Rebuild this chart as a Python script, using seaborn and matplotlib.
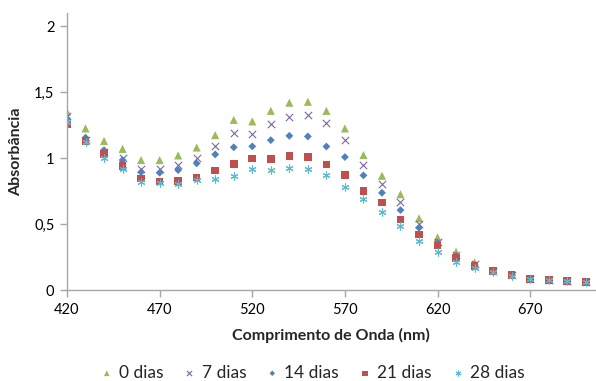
import matplotlib
matplotlib.use("Agg")
import matplotlib.pyplot as plt
import seaborn as sns

# wavelengths (nm) and absorbance per storage time
wavelengths = list(range(420, 701, 10))

dias_0 = [1.35, 1.225, 1.13, 1.07, 0.985, 0.985, 1.02, 1.08, 1.174, 1.29,
          1.278, 1.358, 1.42, 1.427, 1.358, 1.225, 1.023, 0.866, 0.726, 0.543,
          0.399, 0.29, 0.21, 0.15, 0.117, 0.088, 0.078, 0.07, 0.065]
dias_7 = [1.32, 1.14, 1.05, 1.0, 0.917, 0.917, 0.947, 0.997, 1.09, 1.19,
          1.18, 1.258, 1.313, 1.326, 1.263, 1.134, 0.944, 0.806, 0.669, 0.5,
          0.366, 0.265, 0.195, 0.145, 0.113, 0.086, 0.076, 0.068, 0.063]
dias_14 = [1.30, 1.155, 1.06, 0.985, 0.894, 0.889, 0.909, 0.96, 1.028, 1.082,
           1.089, 1.136, 1.169, 1.164, 1.088, 1.008, 0.869, 0.737, 0.606, 0.472,
           0.36, 0.26, 0.19, 0.145, 0.113, 0.086, 0.076, 0.068, 0.063]
dias_21 = [1.255, 1.13, 1.03, 0.94, 0.846, 0.823, 0.826, 0.853, 0.906, 0.953,
           0.997, 0.992, 1.015, 1.008, 0.952, 0.874, 0.75, 0.664, 0.535, 0.422,
           0.336, 0.242, 0.184, 0.143, 0.112, 0.085, 0.075, 0.067, 0.062]
dias_28 = [1.27, 1.12, 1.0, 0.915, 0.818, 0.808, 0.80, 0.833, 0.838, 0.868,
           0.921, 0.909, 0.924, 0.917, 0.874, 0.783, 0.689, 0.591, 0.486, 0.374,
           0.29, 0.21, 0.17, 0.14, 0.11, 0.084, 0.074, 0.066, 0.062]

series_labels = ["0 dias", "7 dias", "14 dias", "21 dias", "28 dias"]
x_ticks = [420, 470, 520, 570, 620, 670]
y_ticks = [0, 0.5, 1, 1.5, 2]
y_tick_labels = ["0", "0,5", "1", "1,5", "2"]

sns.set_style("white")
plt.rcParams["font.family"] = ["Lato", "DejaVu Sans"]

fig = plt.figure(figsize=(5.96, 3.81), dpi=100)
ax = fig.add_axes([0.1124, 0.2388, 0.886, 0.7271])

styles = [
    ("^", "#9BBB59", 34),
    ("x", "#8064A2", 28),
    ("D", "#4F81BD", 16),
    ("s", "#C0504D", 30),
    ((6, 2, 0), "#5BBAD3", 26),
]
all_values = [dias_0, dias_7, dias_14, dias_21, dias_28]

for vals, label, (mk, col, size) in zip(all_values, series_labels, styles):
    if mk in ("x", (6, 2, 0)):
        sns.scatterplot(x=wavelengths, y=vals, marker=mk, color=col, s=size,
                        linewidth=0.8, edgecolor=None, label=label, ax=ax)
    else:
        sns.scatterplot(x=wavelengths, y=vals, marker=mk, color=col, s=size,
                        linewidth=0, edgecolor="none", label=label, ax=ax)

ax.set_xlim(420, 705)
ax.set_ylim(0, 2.1)
ax.set_xticks(x_ticks)
ax.set_yticks(y_ticks)
ax.set_yticklabels(y_tick_labels)

for side in ["top", "right"]:
    ax.spines[side].set_visible(False)
for side in ["left", "bottom"]:
    ax.spines[side].set_color("#a6a6a6")
    ax.spines[side].set_linewidth(1.0)
ax.tick_params(axis="both", which="major", length=5, width=1, color="#a6a6a6",
               labelsize=10.5, labelcolor="black", direction="out",
               bottom=True, left=True, pad=4)

ax.set_xlabel("Comprimento de Onda (nm)", fontsize=11.5, fontweight="bold", labelpad=8)
ax.set_ylabel("Absorbância", fontsize=11.5, fontweight="bold", labelpad=8)

ax.legend(loc="upper center", bbox_to_anchor=(0.466, -0.245), ncol=5, frameon=False,
          fontsize=12.5, markerscale=0.7, handlelength=0.6, handletextpad=0.4,
          columnspacing=1.2, borderaxespad=0)

fig.savefig("out.png", dpi=100)
